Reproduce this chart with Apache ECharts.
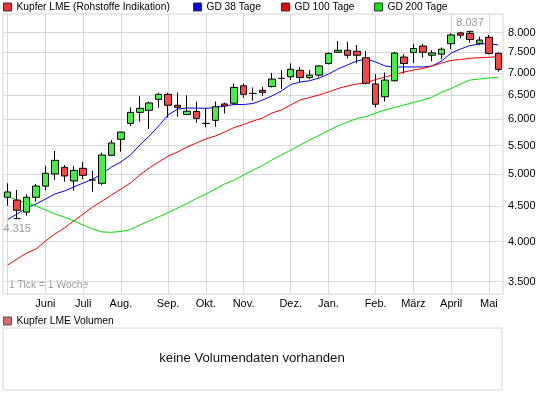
<!DOCTYPE html>
<html><head><meta charset="utf-8">
<script src="https://cdn.jsdelivr.net/npm/echarts@6/dist/echarts.min.js"></script>
<style>html,body{margin:0;padding:0;background:#fff}#c{width:545px;height:395px}</style>
</head><body><div id="c"></div>
<script>
const weeks = ['2009-05-10','2009-05-17','2009-05-24','2009-05-31','2009-06-07','2009-06-14','2009-06-21','2009-06-28','2009-07-05','2009-07-12','2009-07-19','2009-07-26','2009-08-02','2009-08-09','2009-08-16','2009-08-23','2009-08-30','2009-09-06','2009-09-13','2009-09-20','2009-09-27','2009-10-04','2009-10-11','2009-10-18','2009-10-25','2009-11-01','2009-11-08','2009-11-15','2009-11-22','2009-11-29','2009-12-06','2009-12-13','2009-12-20','2009-12-27','2010-01-03','2010-01-10','2010-01-17','2010-01-24','2010-01-31','2010-02-07','2010-02-14','2010-02-21','2010-02-28','2010-03-07','2010-03-14','2010-03-21','2010-03-28','2010-04-04','2010-04-11','2010-04-18','2010-04-25','2010-05-02','2010-05-09'];
const monthNames = ['Jan.','Feb.','März','April','Mai','Juni','Juli','Aug.','Sep.','Okt.','Nov.','Dez.'];
const yTicks = [3500,4000,4500,5000,5500,6000,6500,7000,7500,8000];
const open  = [4633,4590,4410,4632,4807,5005,5117,4890,5100,4906,4853,5325,5616,5920,6141,6183,6412,6520,6288,6097,6159,5920,5981,6315,6330,6707,6540,6607,6690,6874,6911,7061,6894,6950,7224,7497,7547,7522,7363,6748,6468,6821,7380,7493,7654,7424,7449,7713,7995,7985,7721,7879,7469];
const close = [4715,4437,4632,4809,5016,5237,4972,5066,4983,4906,5330,5549,5752,6141,6224,6337,6520,6288,6245,6165,6020,5920,6258,6273,6670,6520,6540,6563,6859,6874,7085,6894,6950,7164,7469,7547,7424,7424,6765,6309,6837,7477,7221,7592,7497,7481,7574,7940,7935,7820,7808,7469,7083];
const low   = [4505,4315,4358,4565,4745,4906,4879,4734,4918,4718,4822,5310,5388,5869,5953,5811,6237,6033,6053,6090,5932,5844,5855,6117,6294,6447,6383,6488,6670,6636,6837,6798,6853,6900,7200,7493,7349,7226,6735,6245,6365,6806,6990,7234,7363,7277,7325,7573,7855,7740,7679,7445,7027];
const high  = [4852,4745,4678,4841,5144,5401,5156,5139,5208,5059,5371,5603,5760,6245,6478,6365,6555,6555,6555,6500,6365,6224,6365,6343,6760,6760,6670,6683,7002,7068,7224,7143,7068,7180,7493,7781,7765,7680,7530,6974,7009,7509,7448,7710,7710,7554,7615,7984,8025,8037,7895,7940,7493];
const gd38  = [4303,4382,4470,4530,4605,4683,4729,4793,4857,4922,5005,5122,5208,5330,5510,5678,5870,6088,6209,6230,6230,6224,6240,6272,6303,6303,6324,6398,6484,6592,6736,6792,6821,6883,6975,7092,7187,7283,7331,7259,7163,7140,7140,7140,7140,7163,7283,7479,7579,7666,7705,7718,7679];
const gd100 = [3700,3774,3850,3901,4007,4101,4183,4282,4382,4485,4575,4667,4761,4857,4988,5105,5208,5312,5383,5473,5547,5622,5678,5754,5840,5899,5967,6027,6128,6189,6293,6398,6452,6506,6570,6647,6703,6748,6770,6849,6906,6963,7021,7068,7103,7163,7235,7295,7319,7348,7363,7375,7388];
const gd200 = [4644,4590,4545,4500,4441,4382,4339,4282,4225,4169,4128,4124,4135,4162,4225,4282,4339,4404,4470,4537,4613,4683,4761,4841,4906,4988,5071,5147,5242,5330,5419,5510,5603,5688,5782,5869,5947,6017,6057,6128,6189,6241,6293,6345,6398,6463,6570,6647,6748,6837,6860,6883,6899];
const legendNames = ['Kupfer LME (Rohstoffe Indikation)','GD 38 Tage','GD 100 Tage','GD 200 Tage'];
const legendColors = ['#ee3333','#0000ee','#ee0000','#00ee00'];

const FONT = 'Liberation Sans, Arial, sans-serif';
const fmt = v => String(Math.round(v)).replace(/\B(?=(\d{3})+(?!\d))/g, '.');
const isMonthStart = i => i > 0 && weeks[i].slice(5,7) !== weeks[i-1].slice(5,7);
const vLines = weeks.filter((w,i) => i === 0 || isMonthStart(i)).map(w => ({xAxis: w}));
const hLines = yTicks.map(v => ({yAxis: v}));
const maxV = Math.max(...high), iMax = high.indexOf(maxV);
const minV = Math.min(...low), iMin = low.indexOf(minV);
const legendLeft = [3, 193, 281, 374];

const chart = echarts.init(document.getElementById('c'), null, {renderer:'canvas'});
chart.setOption({
  animation: false,
  textStyle: {fontFamily: FONT},
  legend: legendNames.map((n, k) => ({
    left: legendLeft[k], top: 2, padding: 0, itemWidth: 8, itemHeight: 8, icon: 'rect',
    textStyle: {fontSize: 10.2, color: '#000', fontFamily: FONT},
    data: [{name: n, itemStyle: {color: legendColors[k], borderColor: '#333', borderWidth: 1}}]
  })).concat([{
    left: 3, top: 316, padding: 0, itemWidth: 8, itemHeight: 8, icon: 'rect',
    textStyle: {fontSize: 10.3, color: '#000', fontFamily: FONT},
    data: [{name: 'Kupfer LME Volumen', itemStyle: {color: '#d86a6a', borderColor: '#555', borderWidth: 1}}]
  }]),
  grid: [
    {left: 3, top: 14, width: 500, height: 280, show: true, borderColor: '#d4d4d4', borderWidth: 1},
    {left: 3, top: 328, width: 499, height: 62, show: true, borderColor: '#d4d4d4', borderWidth: 1}
  ],
  xAxis: [{
    type: 'category', data: weeks, gridIndex: 0, boundaryGap: true,
    axisLine: {show: false}, axisTick: {show: false}, splitLine: {show: false},
    axisLabel: {
      interval: (i) => isMonthStart(i), margin: 4, fontSize: 11, color: '#000', fontFamily: FONT,
      formatter: (w) => monthNames[parseInt(w.slice(5,7), 10) - 1]
    }
  }, {type: 'category', data: weeks, gridIndex: 1, show: false}],
  yAxis: [{
    type: 'log', logBase: 10, min: 3360, max: 8513, position: 'right', gridIndex: 0,
    axisLine: {show: false}, axisTick: {show: false, customValues: yTicks}, splitLine: {show: false},
    axisLabel: {customValues: yTicks, formatter: fmt, fontSize: 11, color: '#000', margin: 5, fontFamily: FONT}
  }, {type: 'value', gridIndex: 1, show: false}],
  graphic: [
    {type: 'text', left: 9, top: 280, style: {text: '1 Tick = 1 Woche', fill: '#999', font: '10.3px ' + FONT}},
    {type: 'text', x: 252, y: 358, style: {text: 'keine Volumendaten vorhanden', fill: '#111', font: '13.2px ' + FONT, textAlign: 'center', textVerticalAlign: 'middle'}}
  ],
  series: [
    {
      name: 'Gitter', type: 'line', data: [], xAxisIndex: 0, yAxisIndex: 0, silent: true,
      markLine: {
        z: 1, silent: true, symbol: ['none','none'], animation: false,
        label: {show: false}, emphasis: {disabled: true},
        lineStyle: {color: '#d8d8d8', width: 1, type: 'solid'},
        data: vLines.concat(hLines)
      }
    },
    {
      name: legendNames[0], type: 'candlestick', z: 3,
      data: open.map((o,i) => [o, close[i], low[i], high[i]]),
      barWidth: 7,
      itemStyle: {color: '#44ee44', color0: '#ff4444', borderColor: '#000', borderColor0: '#000', borderColorDoji: '#000', borderWidth: 1},
      markPoint: {
        symbol: 'rect', symbolSize: [7, 1], silent: true,
        itemStyle: {color: '#000'},
        label: {show: true, color: '#999', fontSize: 11, fontFamily: FONT, distance: 2},
        data: [
          {coord: [weeks[iMax], maxV], label: {position: 'top', formatter: fmt(maxV), distance: 2}},
          {coord: [weeks[iMin], minV], label: {position: 'bottom', formatter: fmt(minV), distance: 4}}
        ]
      }
    },
    {name: legendNames[1], type: 'line', data: gd38, symbol: 'none', z: 2, lineStyle: {color: '#0000ee', width: 1}, itemStyle: {color: '#0000ee'}},
    {name: legendNames[2], type: 'line', data: gd100, symbol: 'none', z: 2, lineStyle: {color: '#ee0000', width: 1}, itemStyle: {color: '#ee0000'}},
    {name: legendNames[3], type: 'line', data: gd200, symbol: 'none', z: 2, lineStyle: {color: '#00dd00', width: 1}, itemStyle: {color: '#00dd00'}},
    {name: 'Kupfer LME Volumen', type: 'bar', data: [], xAxisIndex: 1, yAxisIndex: 1}
  ]
});
</script></body></html>
